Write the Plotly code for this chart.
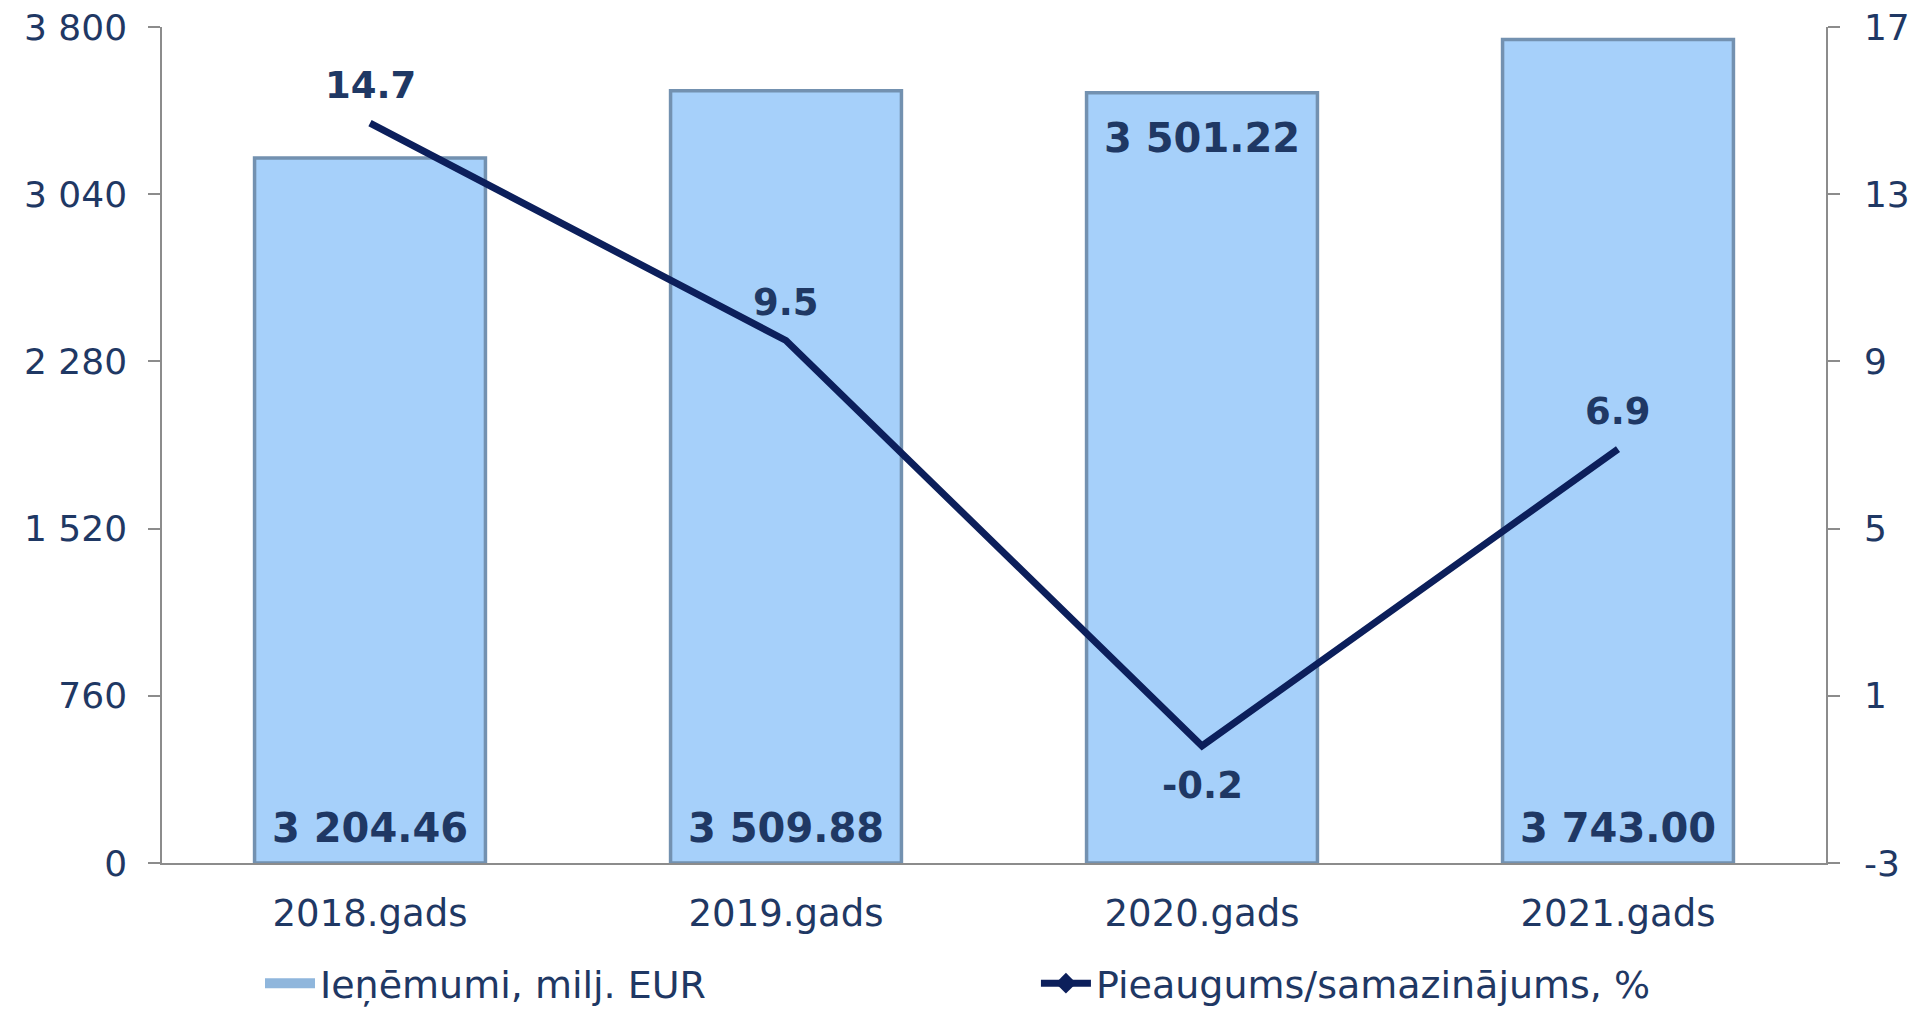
import plotly.graph_objects as go

categories = ["2018.gads", "2019.gads", "2020.gads", "2021.gads"]
revenue = [3204.46, 3509.88, 3501.22, 3743.00]
growth = [14.7, 9.5, -0.2, 6.9]
revenue_label_pos = ["base", "base", "top", "base"]
growth_label_pos = ["above", "above", "below", "above"]

left_ticks = [0, 760, 1520, 2280, 3040, 3800]
right_ticks = [-3, 1, 5, 9, 13, 17]

series_names = ["Ieņēmumi, milj. EUR", "Pieaugums/samazinājums, %"]

FONT = "DejaVu Sans"
TXT = "#1f3864"
NAVY = "#0c1f5b"
AXIS = "#8c8c8c"
BAR_FILL = "#a6d0fa"
BAR_EDGE = "#7391b0"
LEG_BAR = "#8fb6dc"

fig = go.Figure()

fig.add_trace(go.Bar(
    x=categories, y=revenue, name=series_names[0],
    marker=dict(color=BAR_FILL, line=dict(color=BAR_EDGE, width=3.5)),
    showlegend=False, yaxis="y",
))
fig.add_trace(go.Scatter(
    x=categories, y=growth, name=series_names[1], mode="lines",
    line=dict(color=NAVY, width=7), showlegend=False, yaxis="y2",
))
# legend-only entries
fig.add_trace(go.Scatter(
    x=[None], y=[None], name=series_names[0], mode="lines",
    line=dict(color=LEG_BAR, width=14),
    legend="legend", yaxis="y",
))
fig.add_trace(go.Scatter(
    x=[None], y=[None], name=series_names[1], mode="lines+markers",
    line=dict(color=NAVY, width=7),
    marker=dict(symbol="diamond", size=16, color=NAVY),
    legend="legend2", yaxis="y2",
))

annotations = []
for c, v, p in zip(categories, revenue, revenue_label_pos):
    txt = f"{v:,.2f}".replace(",", " ")
    if p == "base":
        annotations.append(dict(x=c, y=0, xref="x", yref="y", text=txt,
                                showarrow=False, yanchor="bottom", yshift=10,
                                font=dict(family=FONT, size=40, color=TXT, weight="bold")))
    else:
        annotations.append(dict(x=c, y=v, xref="x", yref="y", text=txt,
                                showarrow=False, yanchor="top", yshift=-20,
                                font=dict(family=FONT, size=40, color=TXT, weight="bold")))
for c, v, p in zip(categories, growth, growth_label_pos):
    annotations.append(dict(x=c, y=v, xref="x", yref="y2", text=f"{v:.1f}",
                            showarrow=False, yanchor="middle",
                            yshift=38 if p == "above" else -40,
                            font=dict(family=FONT, size=37, color=TXT, weight="bold")))

LEG_Y = (863 - 952) / 836

fig.update_layout(
    width=1916, height=1012,
    margin=dict(l=162, r=90, t=27, b=149, autoexpand=False),
    paper_bgcolor="white", plot_bgcolor="white",
    font=dict(family=FONT, color=TXT, size=36),
    separators=". ",
    bargap=0.445,
    annotations=annotations,
    xaxis=dict(showline=True, linecolor=AXIS, linewidth=1.5, ticks="",
               tickfont=dict(size=37, color=TXT), ticklabelstandoff=17,
               showgrid=False, automargin=False),
    yaxis=dict(range=[0, 3800], tickvals=left_ticks, tickformat=",d",
               showline=True, linecolor=AXIS, linewidth=1.5,
               ticks="outside", ticklen=12, tickcolor=AXIS, tickwidth=1.5,
               ticklabelstandoff=14, showgrid=False, zeroline=False,
               tickfont=dict(size=36, color=TXT), automargin=False),
    yaxis2=dict(range=[-3, 17], tickvals=right_ticks,
                ticktext=[str(t) for t in right_ticks],
                overlaying="y", side="right",
                showline=True, linecolor=AXIS, linewidth=1.5,
                ticks="outside", ticklen=12, tickcolor=AXIS, tickwidth=1.5,
                ticklabelstandoff=17, showgrid=False, zeroline=False,
                tickfont=dict(size=36, color=TXT), automargin=False),
    legend=dict(x=0.0589, y=LEG_Y, xanchor="left", yanchor="top", itemwidth=50,
                orientation="h", font=dict(size=38, color=TXT), bgcolor="rgba(0,0,0,0)"),
    legend2=dict(x=0.5252, y=LEG_Y, xanchor="left", yanchor="top", itemwidth=50,
                 orientation="h", font=dict(size=38, color=TXT), bgcolor="rgba(0,0,0,0)"),
)

fig.write_html("out.html", config={"displayModeBar": False},
               post_script="document.body.style.margin='0';document.body.style.overflow='hidden';")
